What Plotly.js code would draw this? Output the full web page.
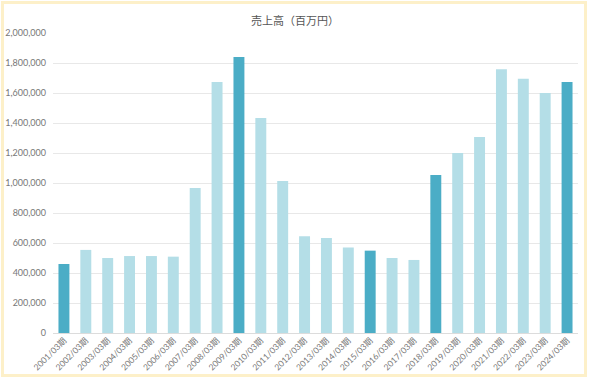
<!DOCTYPE html>
<html>
<head>
<meta charset="utf-8">
<script src="https://cdn.plot.ly/plotly-3.0.1.min.js"></script>
<style>
html,body{margin:0;padding:0;background:#fff;}
#wrap{position:relative;width:590px;height:379px;}
#chart{position:absolute;left:0;top:0;width:590px;height:379px;}
#frame{position:absolute;left:1px;top:1px;width:580px;height:370px;border:3px solid #fdf0c9;pointer-events:none;}
</style>
</head>
<body>
<div id="wrap"><div id="chart"></div><div id="frame"></div></div>
<script>
const categories = ["2001/03期","2002/03期","2003/03期","2004/03期","2005/03期","2006/03期","2007/03期","2008/03期","2009/03期","2010/03期","2011/03期","2012/03期","2013/03期","2014/03期","2015/03期","2016/03期","2017/03期","2018/03期","2019/03期","2020/03期","2021/03期","2022/03期","2023/03期","2024/03期"];
const sales = [460000,554000,500000,513000,513000,509000,966000,1673000,1840000,1433000,1013000,645000,633000,570000,549000,500000,487000,1054000,1200000,1307000,1758000,1695000,1600000,1673000];
const highlighted = ["2001/03期","2009/03期","2015/03期","2018/03期","2024/03期"];
const yTicks = [0,200000,400000,600000,800000,1000000,1200000,1400000,1600000,1800000,2000000];

const DARK = "#4badc6";
const LIGHT = "#b4dee7";
const colors = categories.map(c => highlighted.includes(c) ? DARK : LIGHT);

const font = "Lato, 'Noto Sans CJK JP', sans-serif";

Plotly.newPlot("chart", [{
  type: "bar",
  x: categories,
  y: sales,
  marker: {color: colors},
  hoverinfo: "x+y"
}], {
  width: 590, height: 379,
  margin: {l: 53, r: 12, t: 33, b: 46},
  paper_bgcolor: "#fff",
  plot_bgcolor: "#fff",
  bargap: 0.5,
  showlegend: false,
  title: {text: "売上高（百万円）", x: 0.5, xanchor: "center", y: 1, yref: "paper", yanchor: "bottom", pad: {b: 8},
          font: {family: "'Noto Sans CJK JP', sans-serif", size: 11, color: "#555"}},
  xaxis: {
    type: "category",
    tickangle: -45,
    tickfont: {family: font, size: 8.5, color: "#777"},
    showgrid: false,
    showline: false,
    ticks: "",
    zeroline: false
  },
  yaxis: {
    range: [0, 2000000],
    tickvals: yTicks,
    tickformat: ",d",
    tickfont: {family: font, size: 9, color: "#777"},
    gridcolor: "#e8e8e8",
    gridwidth: 1,
    zeroline: true,
    zerolinecolor: "#dcdcdc",
    zerolinewidth: 1,
    showline: false,
    ticks: "",
    ticklabelstandoff: 6
  }
}, {displayModeBar: false, staticPlot: true});
</script>
</body>
</html>
